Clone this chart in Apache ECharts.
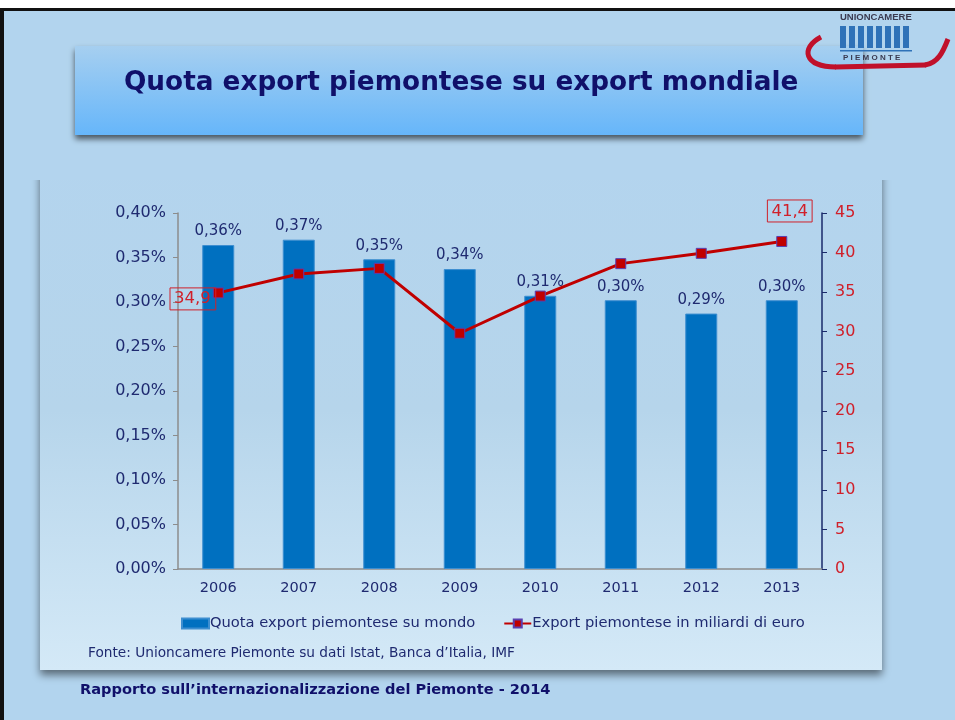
<!DOCTYPE html>
<html>
<head>
<meta charset="utf-8">
<style>
  html, body { margin: 0; padding: 0; background: #fff; }
  #container { width: 955px; height: 720px; }
</style>
<script src="https://cdn.jsdelivr.net/npm/echarts@6/dist/echarts.min.js"></script>
</head>
<body>
<div id="container"></div>
<script>
var years = ['2006', '2007', '2008', '2009', '2010', '2011', '2012', '2013'];
// quota export piemontese su export mondiale (%)
var quota = [0.364, 0.370, 0.348, 0.337, 0.307, 0.302, 0.287, 0.302];
// export piemontese in miliardi di euro
var exportMld = [34.9, 37.3, 38.0, 29.8, 34.5, 38.6, 39.9, 41.4];
var leftTicks = { min: 0, max: 0.4, interval: 0.05 };
var rightTicks = { min: 0, max: 45, interval: 5 };

var navy = '#1f2a70';
var red = '#c00000';

var dom = document.getElementById('container');
var myChart = echarts.init(dom, null, { renderer: 'canvas' });

function comma(v, d) {
  return v.toFixed(d).replace('.', ',');
}

var lineData = exportMld.map(function (v, i) {
  var item = { value: v };
  if (i === 0) {
    item.label = { show: true, position: 'left', distance: -3, offset: [0, 6], padding: [3, 5, 2, 4] };
  } else if (i === exportMld.length - 1) {
    item.label = { show: true, position: 'top', distance: 14, offset: [8, 0] };
  }
  return item;
});

var swoosh = { fill: null, stroke: '#c0102a', lineWidth: 5 };

var option = {
  backgroundColor: '#b2d4ee',
  textStyle: { fontFamily: 'DejaVu Sans' },
  graphic: [
    { type: 'rect', z: -10, shape: { x: 0, y: 0, width: 955, height: 9 }, style: { fill: '#ffffff' } },
    { type: 'rect', z: -10, shape: { x: 0, y: 8, width: 955, height: 3 }, style: { fill: '#111111' } },
    { type: 'rect', z: -10, shape: { x: 0, y: 8, width: 4, height: 712 }, style: { fill: '#111111' } },
    {
      type: 'rect', z: -9,
      shape: { x: 40, y: 150, width: 842, height: 520 },
      style: {
        fill: new echarts.graphic.LinearGradient(0, 0, 0, 1, [
          { offset: 0, color: '#b3d4ee' },
          { offset: 0.5, color: '#b6d5eb' },
          { offset: 1, color: '#d4e9f7' }
        ]),
        shadowBlur: 8, shadowColor: 'rgba(0,0,0,0.5)', shadowOffsetY: 5
      }
    },
    // hide the top edge of the panel shadow
    { type: 'rect', z: -8, shape: { x: 30, y: 140, width: 870, height: 40 }, style: { fill: '#b3d4ee' } },
    {
      type: 'rect', z: -7,
      shape: { x: 75, y: 46, width: 788, height: 89 },
      style: {
        fill: new echarts.graphic.LinearGradient(0, 0, 0, 1, [
          { offset: 0, color: '#a6cff0' },
          { offset: 1, color: '#66b6fa' }
        ]),
        shadowBlur: 6, shadowColor: 'rgba(0,0,0,0.6)', shadowOffsetY: 4
      }
    },
    {
      type: 'text', z: 10, x: 124, y: 70,
      style: { text: 'Quota export piemontese su export mondiale', font: 'bold 26.3px "DejaVu Sans"', fill: '#10106a' }
    },
    // logo
    { type: 'bezierCurve', z: 5, shape: { x1: 821, y1: 37, x2: 836, y2: 67, cpx1: 800, cpy1: 48, cpx2: 804, cpy2: 67 }, style: swoosh },
    { type: 'line', z: 5, shape: { x1: 835, y1: 67, x2: 926, y2: 65 }, style: swoosh },
    { type: 'bezierCurve', z: 5, shape: { x1: 925, y1: 65, x2: 948, y2: 39, cpx1: 938, cpy1: 63, cpx2: 943, cpy2: 52 }, style: swoosh },
    {
      type: 'text', z: 7, x: 840, y: 12,
      style: { text: 'UNIONCAMERE', font: 'bold 9.5px "Liberation Sans Narrow", "Liberation Sans"', fill: '#3a3a50' }
    },
    {
      type: 'group', z: 7,
      children: [0, 1, 2, 3, 4, 5, 6, 7].map(function (i) {
        return { type: 'rect', z: 7, shape: { x: 840 + i * 9, y: 26, width: 6, height: 22 }, style: { fill: '#2f72b8' } };
      })
    },
    { type: 'rect', z: 7, shape: { x: 840, y: 50, width: 72, height: 1.5 }, style: { fill: '#2f72b8' } },
    {
      type: 'text', z: 7, x: 843, y: 54,
      style: { text: 'P I E M O N T E', font: 'bold 8px "Liberation Sans"', fill: '#3a3a50' }
    },
    {
      type: 'text', z: 10, x: 88, y: 646,
      style: { text: 'Fonte: Unioncamere Piemonte su dati Istat, Banca d\u2019Italia, IMF', font: '13.7px "DejaVu Sans"', fill: navy }
    },
    {
      type: 'text', z: 10, x: 80, y: 683,
      style: { text: 'Rapporto sull\u2019internazionalizzazione del Piemonte - 2014', font: 'bold 14.6px "DejaVu Sans"', fill: '#10106a' }
    }
  ],
  grid: { left: 178, right: 133, top: 213, bottom: 151 },
  legend: {
    left: 176, top: 611, itemGap: 28, itemWidth: 27, itemHeight: 10,
    textStyle: { color: navy, fontSize: 14.7, fontFamily: 'DejaVu Sans', padding: [0, 0, 0, -4] },
    data: [
      { name: 'Quota export piemontese su mondo', icon: 'rect' },
      { name: 'Export piemontese in miliardi di euro' }
    ]
  },
  xAxis: {
    type: 'category', data: years,
    axisLine: { lineStyle: { color: '#8c8c8c', width: 1.5 } },
    axisTick: { lineStyle: { color: '#8c8c8c' }, length: 5 },
    axisLabel: { color: navy, fontSize: 14.5, margin: 12 }
  },
  yAxis: [
    {
      type: 'value', min: leftTicks.min, max: leftTicks.max, interval: leftTicks.interval,
      splitLine: { show: false },
      axisLine: { show: true, lineStyle: { color: '#8c8c8c', width: 1.5 } },
      axisTick: { show: true, lineStyle: { color: '#8c8c8c' }, length: 5 },
      axisLabel: { color: navy, fontSize: 16, margin: 12, formatter: function (v) { return comma(v, 2) + '%'; } }
    },
    {
      type: 'value', min: rightTicks.min, max: rightTicks.max, interval: rightTicks.interval,
      position: 'right',
      splitLine: { show: false },
      axisLine: { show: true, lineStyle: { color: '#1a2a6a', width: 1.5 } },
      axisTick: { show: true, lineStyle: { color: '#1a2a6a' }, length: 5 },
      axisLabel: { color: '#d0202a', fontSize: 16, margin: 13 }
    }
  ],
  series: [
    {
      name: 'Quota export piemontese su mondo',
      type: 'bar', data: quota, barWidth: 32,
      itemStyle: { color: '#0070c0', borderColor: '#3d8ed0', borderWidth: 1 },
      label: {
        show: true, position: 'top', distance: 6, color: navy, fontSize: 15,
        formatter: function (p) { return comma(p.value, 2) + '%'; }
      }
    },
    {
      name: 'Export piemontese in miliardi di euro',
      type: 'line', yAxisIndex: 1, data: lineData,
      symbol: 'rect', symbolSize: 10,
      lineStyle: { color: red, width: 3 },
      itemStyle: { color: red, borderColor: '#5a3fb0', borderWidth: 1 },
      label: {
        show: false, color: '#d0202a', fontSize: 16.5,
        borderColor: '#d0202a', borderWidth: 1, padding: [3, 4, 2, 4],
        formatter: function (p) { return comma(p.value, 1); }
      },
      z: 5
    }
  ]
};

myChart.setOption(option);
window.addEventListener('resize', myChart.resize);
</script>
</body>
</html>
